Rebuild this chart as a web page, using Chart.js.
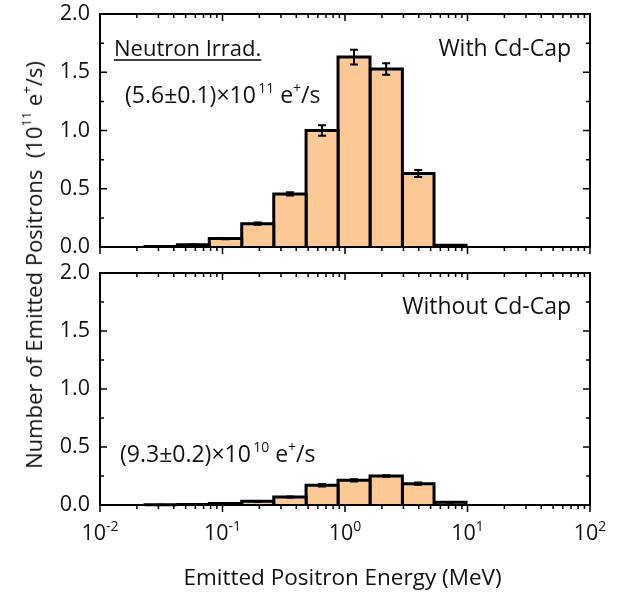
<!DOCTYPE html>
<html>
<head>
<meta charset="utf-8">
<script src="https://cdn.jsdelivr.net/npm/chart.js@4.4.0/dist/chart.umd.min.js"></script>
<style>
  body { margin: 0; background: #fff; }
  #wrap { position: relative; width: 631px; height: 594px; font-family: 'Open Sans', sans-serif; color: #111; }
  #c1 { position: absolute; left: 0; top: 0; }
  #c2 { position: absolute; left: 0; top: 262px; }
  #ytitle {
    position: absolute; left: 33px; top: 265px; white-space: nowrap; font-size: 22px; line-height: 1;
    transform: translate(-50%, -50%) rotate(-90deg);
  }
  #ytitle sup { font-size: 13px; position: relative; top: -2px; vertical-align: top; }
</style>
</head>
<body>
<div id="wrap">
  <canvas id="c1" width="631" height="262"></canvas>
  <canvas id="c2" width="631" height="332"></canvas>
  <div id="ytitle">Number of Emitted Positrons&nbsp; (10<sup>11</sup> e<sup>+</sup>/s)</div>
</div>
<script>
// bin edges (MeV) and bin contents (10^11 e+/s)
const binEdges = [0.0233, 0.0428, 0.078, 0.1435, 0.262, 0.481, 0.877, 1.60, 2.94, 5.33, 9.73];
const withCap = [0.005, 0.02, 0.072, 0.20, 0.456, 1.00, 1.63, 1.528, 0.631, 0.015];
const withCapErr = [0.001, 0.003, 0.006, 0.01, 0.015, 0.045, 0.063, 0.05, 0.03, 0.002];
const withoutCap = [0.002, 0.004, 0.013, 0.032, 0.069, 0.17, 0.213, 0.25, 0.184, 0.023];
const withoutCapErr = [0.001, 0.001, 0.002, 0.003, 0.004, 0.01, 0.01, 0.006, 0.01, 0.003];
const yTicks = [0, 0.5, 1.0, 1.5, 2.0];
const xTickExps = [-2, -1, 0, 1, 2];

const FILL = '#fcc996';
const INK = '#111';
const FONT = "'Open Sans', sans-serif";

// draw text with superscript parts: [[text, isSup], ...]
function drawRich(ctx, parts, x, y, size, align) {
  const big = size + 'px ' + FONT;
  const small = Math.round(size * 0.63) + 'px ' + FONT;
  let w = 0;
  parts.forEach(p => { ctx.font = p[1] ? small : big; w += ctx.measureText(p[0]).width; });
  let cx = align === 'center' ? x - w / 2 : align === 'right' ? x - w : x;
  ctx.textAlign = 'left';
  ctx.textBaseline = 'alphabetic';
  ctx.fillStyle = INK;
  parts.forEach(p => {
    ctx.font = p[1] ? small : big;
    ctx.fillText(p[0], cx, p[1] ? y - size * 0.42 : y);
    cx += ctx.measureText(p[0]).width;
  });
  return w;
}

function barSets(values) {
  return values.map((v, i) => ({
    data: [
      { x: binEdges[i], y: 0 }, { x: binEdges[i], y: v },
      { x: binEdges[i + 1], y: v }, { x: binEdges[i + 1], y: 0 }
    ],
    borderColor: '#000',
    borderWidth: 3,
    borderJoinStyle: 'miter',
    backgroundColor: FILL,
    fill: 'origin',
    pointRadius: 0,
    tension: 0,
    clip: false
  }));
}

const framePlugin = {
  id: 'frame',
  afterDatasetsDraw(chart, args, opts) {
    const { ctx, chartArea: a, scales: { x, y } } = chart;
    ctx.save();
    // error bars
    ctx.strokeStyle = '#000';
    ctx.lineWidth = 2;
    opts.values.forEach((v, i) => {
      const px = x.getPixelForValue(Math.sqrt(binEdges[i] * binEdges[i + 1]));
      const y1 = y.getPixelForValue(v - opts.errs[i]);
      const y2 = y.getPixelForValue(v + opts.errs[i]);
      ctx.beginPath();
      ctx.moveTo(px, y1); ctx.lineTo(px, y2);
      ctx.moveTo(px - 4, y1); ctx.lineTo(px + 4, y1);
      ctx.moveTo(px - 4, y2); ctx.lineTo(px + 4, y2);
      ctx.stroke();
    });
    // frame
    ctx.lineWidth = 2;
    ctx.strokeRect(a.left, a.top, a.right - a.left, a.bottom - a.top);
    // ticks
    ctx.lineWidth = 1.5;
    ctx.beginPath();
    for (let e = -2; e < 2; e++) {
      for (let m = 1; m <= 9; m++) {
        const px = x.getPixelForValue(m * Math.pow(10, e));
        const len = m === 1 ? 7 : 4;
        ctx.moveTo(px, a.top); ctx.lineTo(px, a.top + len);
        ctx.moveTo(px, a.bottom); ctx.lineTo(px, a.bottom + len);
      }
    }
    const pr = x.getPixelForValue(100);
    ctx.moveTo(pr, a.bottom); ctx.lineTo(pr, a.bottom + 7);
    for (let t = 0; t <= 8; t++) {
      const py = y.getPixelForValue(t * 0.25);
      const len = t % 2 === 0 ? 7 : 4;
      ctx.moveTo(a.left, py); ctx.lineTo(a.left + len, py);
      ctx.moveTo(a.right, py); ctx.lineTo(a.right - len, py);
    }
    ctx.stroke();
    // x tick labels
    if (opts.xLabels) {
      xTickExps.forEach(e => {
        const px = x.getPixelForValue(Math.pow(10, e));
        drawRich(ctx, [['10', false], [String(e), true]], px, a.bottom + 35, 21.5, 'center');
      });
      drawRich(ctx, [['Emitted Positron Energy (MeV)', false]], 342.5, a.bottom + 80, 22.5, 'center');
    }
    // notes
    opts.notes.forEach(n => {
      const w = drawRich(ctx, n.parts, n.x, n.y, n.size, n.align);
      if (n.underline) {
        ctx.lineWidth = 1.5;
        ctx.beginPath();
        ctx.moveTo(n.x, n.y + 4); ctx.lineTo(n.x + w, n.y + 4);
        ctx.stroke();
      }
    });
    ctx.restore();
  }
};

function makeChart(id, values, errs, pad, xLabels, notes) {
  return new Chart(document.getElementById(id), {
    type: 'line',
    data: { datasets: barSets(values) },
    options: {
      responsive: false,
      animation: false,
      events: [],
      layout: { padding: pad },
      plugins: {
        legend: { display: false },
        tooltip: { enabled: false },
        frame: { values: values, errs: errs, xLabels: xLabels, notes: notes }
      },
      scales: {
        x: {
          type: 'logarithmic', min: 0.01, max: 100,
          grid: { display: false, drawTicks: false },
          border: { display: false },
          ticks: { display: false },
          afterFit: s => { s.height = 0; s.paddingLeft = 0; s.paddingRight = 0; }
        },
        y: {
          min: 0, max: 2,
          grid: { display: false, drawTicks: false },
          border: { display: false },
          afterBuildTicks: s => { s.ticks = yTicks.map(v => ({ value: v })); },
          ticks: {
            padding: 10, color: INK,
            font: { family: FONT, size: 21.5 },
            callback: v => v.toFixed(1)
          },
          afterFit: s => { s.width = 100; s.paddingTop = 0; s.paddingBottom = 0; }
        }
      }
    },
    plugins: [framePlugin]
  });
}

makeChart('c1', withCap, withCapErr, { top: 14, bottom: 15, left: 0, right: 41 }, false, [
  { parts: [['Neutron Irrad.', false]], x: 114, y: 56, size: 22, align: 'left', underline: true },
  { parts: [['With Cd-Cap', false]], x: 571, y: 56, size: 23, align: 'right' },
  { parts: [['(5.6\u00b10.1)\u00d710', false], ['\u200911', true], [' e', false], ['+', true], ['/s', false]], x: 125, y: 103, size: 23, align: 'left' }
]);

makeChart('c2', withoutCap, withoutCapErr, { top: 11, bottom: 89, left: 0, right: 41 }, true, [
  { parts: [['Without Cd-Cap', false]], x: 571, y: 52, size: 23, align: 'right' },
  { parts: [['(9.3\u00b10.2)\u00d710', false], ['\u200910', true], [' e', false], ['+', true], ['/s', false]], x: 120, y: 200, size: 23, align: 'left' }
]);
</script>
</body>
</html>
